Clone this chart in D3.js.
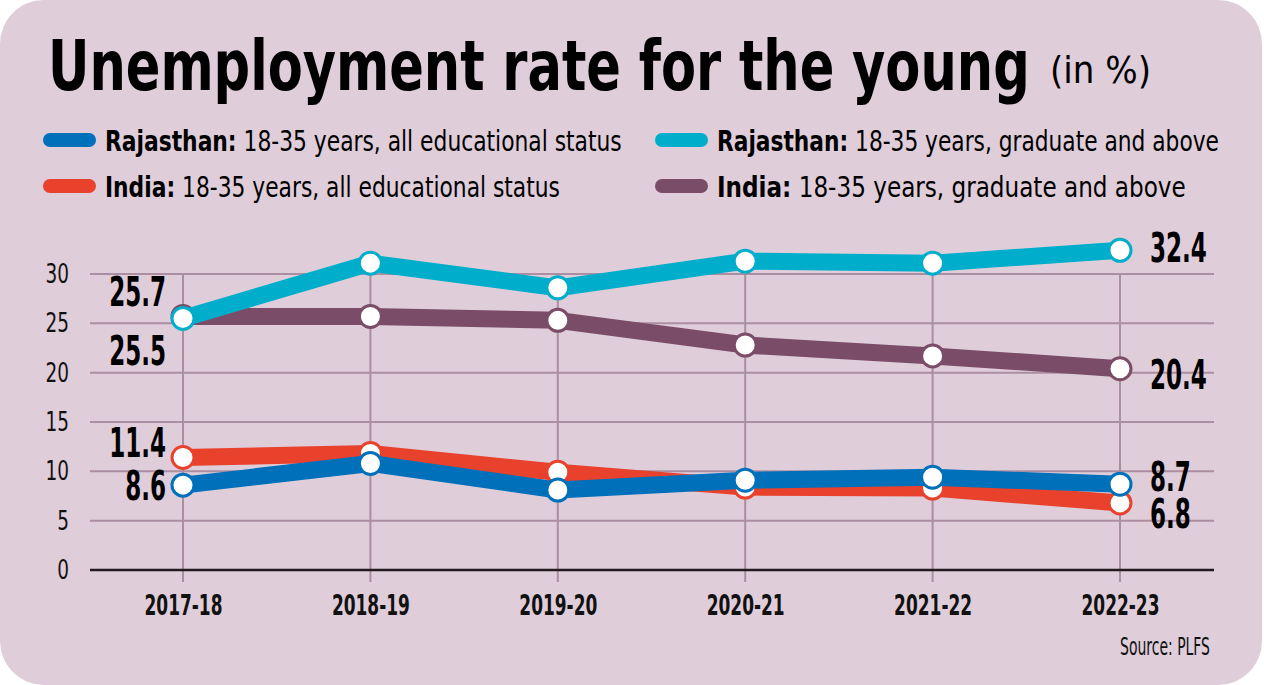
<!DOCTYPE html>
<html>
<head>
<meta charset="utf-8">
<script src="https://cdn.jsdelivr.net/npm/d3@7"></script>
<style>
  html, body { margin: 0; padding: 0; background: #ffffff; }
  svg { display: block; }
</style>
</head>
<body>
<div id="chart"></div>
<script>
// data
var years = ["2017-18", "2018-19", "2019-20", "2020-21", "2021-22", "2022-23"];
var rajAll = [8.6, 10.8, 8.1, 9.1, 9.4, 8.7];
var indiaAll = [11.4, 11.8, 9.9, 8.4, 8.3, 6.8];
var rajGrad = [25.5, 31.1, 28.6, 31.3, 31.1, 32.4];
var indiaGrad = [25.7, 25.7, 25.3, 22.8, 21.7, 20.4];
var yTicks = [0, 5, 10, 15, 20, 25, 30];

var W = 1264, H = 685;
var font = "'DejaVu Sans Condensed', 'DejaVu Sans', sans-serif";

var series = [
  { key: "indiaAll", values: indiaAll, color: "#e8412c" },
  { key: "rajAll", values: rajAll, color: "#0070bb" },
  { key: "indiaGrad", values: indiaGrad, color: "#7b4c68" },
  { key: "rajGrad", values: rajGrad, color: "#00aecb" }
];

// squeeze a text horizontally around its anchor point (the source font is very narrow)
function squeeze(sel, k) {
  sel.each(function () {
    var t = d3.select(this),
        ax = +t.attr("x") || 0,
        ay = +t.attr("y") || 0;
    t.attr("transform", "translate(" + ax + "," + ay + ") scale(" + k + ",1) translate(" + (-ax) + "," + (-ay) + ")");
  });
}

// squeeze so that the text is exactly w pixels wide
function fitTo(sel, w) {
  sel.each(function () {
    var bw = this.getComputedTextLength();
    squeeze(d3.select(this), w / bw);
  });
}

var svg = d3.select("#chart")
  .append("svg")
  .attr("width", W)
  .attr("height", H);

// card background
svg.append("rect")
  .attr("x", 0).attr("y", 0)
  .attr("width", W - 2).attr("height", H)
  .attr("rx", 44).attr("ry", 44)
  .style("fill", "#dfcdd9");

var x = d3.scalePoint()
  .domain(years)
  .range([183, 1120]);

var y = d3.scaleLinear()
  .domain([0, 30])
  .range([570, 274]);

// title
var title = svg.append("text")
  .attr("x", 48)
  .attr("y", 90)
  .style("font-family", font)
  .style("font-weight", "bold")
  .style("font-size", "69px")
  .style("fill", "#000")
  .text("Unemployment rate for the young");
fitTo(title, 982);

var unit = svg.append("text")
  .attr("x", 1050)
  .attr("y", 83)
  .style("font-family", font)
  .style("font-size", "38px")
  .style("fill", "#000")
  .text("(in %)");
fitTo(unit, 101);

// legend
var legendItems = [
  { color: "#0070bb", bold: "Rajasthan:", rest: " 18-35 years, all educational status", lx: 43, ly: 140, w: 517 },
  { color: "#00aecb", bold: "Rajasthan:", rest: " 18-35 years, graduate and above", lx: 655, ly: 140, w: 502 },
  { color: "#e8412c", bold: "India:", rest: " 18-35 years, all educational status", lx: 43, ly: 186, w: 455 },
  { color: "#7b4c68", bold: "India:", rest: " 18-35 years, graduate and above", lx: 655, ly: 186, w: 469 }
];

var legend = svg.selectAll("g.legend")
  .data(legendItems)
  .enter().append("g")
  .attr("class", "legend")
  .attr("transform", function (d) { return "translate(" + d.lx + "," + d.ly + ")"; });

legend.append("rect")
  .attr("x", 0).attr("y", -7)
  .attr("width", 53).attr("height", 14)
  .attr("rx", 7)
  .style("fill", function (d) { return d.color; });

var legendText = legend.append("text")
  .attr("x", 62)
  .attr("y", 11)
  .style("font-family", font)
  .style("font-size", "29px")
  .style("fill", "#000");
legendText.append("tspan")
  .style("font-weight", "bold")
  .text(function (d) { return d.bold; });
legendText.append("tspan")
  .text(function (d) { return d.rest; });
legendText.each(function (d) { fitTo(d3.select(this), d.w); });

// horizontal grid
svg.append("g")
  .selectAll("line")
  .data(yTicks.filter(function (d) { return d > 0; }))
  .enter().append("line")
  .attr("x1", 90).attr("x2", 1214)
  .attr("y1", function (d) { return y(d); })
  .attr("y2", function (d) { return y(d); })
  .style("stroke", "#ab8ea1")
  .style("stroke-width", 2);

// vertical grid
svg.append("g")
  .selectAll("line")
  .data(years)
  .enter().append("line")
  .attr("x1", function (d) { return x(d); })
  .attr("x2", function (d) { return x(d); })
  .attr("y1", y(30))
  .attr("y2", y(0) + 12)
  .style("stroke", "#ab8ea1")
  .style("stroke-width", 2);

// baseline
svg.append("line")
  .attr("x1", 90).attr("x2", 1214)
  .attr("y1", y(0)).attr("y2", y(0))
  .style("stroke", "#231a20")
  .style("stroke-width", 2.5);

// y axis labels
var yAxis = svg.append("g")
  .attr("transform", "translate(69,0)")
  .call(d3.axisLeft(y).tickValues(yTicks).tickSize(0).tickPadding(0));
yAxis.select(".domain").remove();
yAxis.selectAll("text")
  .style("font-family", font)
  .style("font-size", "27px")
  .style("fill", "#111");
squeeze(yAxis.selectAll("text"), 0.76);

// x axis labels
var xAxis = svg.append("g")
  .attr("transform", "translate(0," + (y(0) + 25) + ")")
  .call(d3.axisBottom(x).tickSize(0).tickPadding(0));
xAxis.select(".domain").remove();
xAxis.selectAll("text")
  .style("font-family", font)
  .style("font-weight", "bold")
  .style("font-size", "28px")
  .style("fill", "#111");
xAxis.selectAll("text").each(function () { fitTo(d3.select(this), 78); });

// lines and markers
var line = d3.line()
  .x(function (d, i) { return x(years[i]); })
  .y(function (d) { return y(d); });

series.forEach(function (s) {
  var g = svg.append("g");
  g.append("path")
    .datum(s.values)
    .attr("d", line)
    .style("fill", "none")
    .style("stroke", s.color)
    .style("stroke-width", 17)
    .style("stroke-linejoin", "round");
  g.selectAll("circle")
    .data(s.values)
    .enter().append("circle")
    .attr("cx", function (d, i) { return x(years[i]); })
    .attr("cy", function (d) { return y(d); })
    .attr("r", 11)
    .style("fill", "#fff")
    .style("stroke", s.color)
    .style("stroke-width", 3);
});

// value labels at both ends
var endLabels = [
  { values: indiaGrad, idx: 0, dy: -25, side: "left" },
  { values: rajGrad, idx: 0, dy: 32, side: "left" },
  { values: indiaAll, idx: 0, dy: -16, side: "left" },
  { values: rajAll, idx: 0, dy: 0, side: "left" },
  { values: rajGrad, idx: 5, dy: -3, side: "right" },
  { values: indiaGrad, idx: 5, dy: 5, side: "right" },
  { values: rajAll, idx: 5, dy: -8, side: "right" },
  { values: indiaAll, idx: 5, dy: 10, side: "right" }
];

var vals = svg.selectAll("text.val")
  .data(endLabels)
  .enter().append("text")
  .attr("class", "val")
  .attr("x", function (d) { return x(years[d.idx]) + (d.side === "left" ? -17 : 30); })
  .attr("y", function (d) { return y(d.values[d.idx]) + d.dy + 15; })
  .attr("text-anchor", function (d) { return d.side === "left" ? "end" : "start"; })
  .style("font-family", font)
  .style("font-weight", "bold")
  .style("font-size", "40px")
  .style("fill", "#000")
  .text(function (d) { return d3.format(".1f")(d.values[d.idx]); });
squeeze(vals, 0.64);

// source
var source = svg.append("text")
  .attr("x", 1210)
  .attr("y", 655)
  .attr("text-anchor", "end")
  .style("font-family", font)
  .style("font-size", "25px")
  .style("fill", "#111")
  .text("Source: PLFS");
fitTo(source, 90);
</script>
</body>
</html>
